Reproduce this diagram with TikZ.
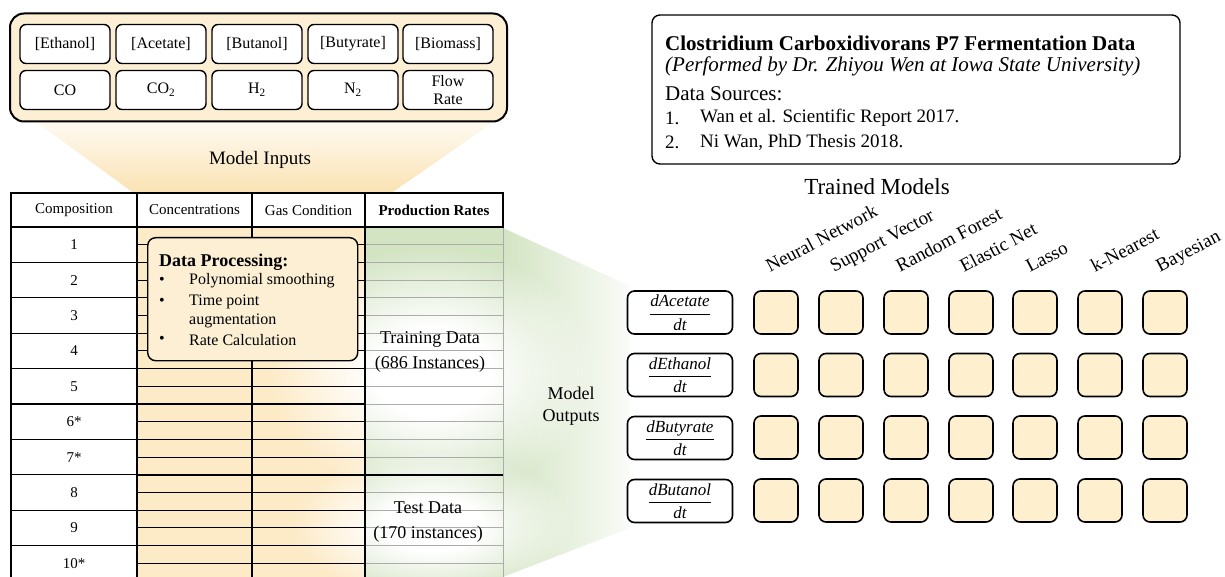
\documentclass[tikz,border=0pt]{standalone}
\usepackage{fontspec}
\setmainfont{Liberation Serif}
\usetikzlibrary{fadings}
\definecolor{inyellow}{HTML}{FCEFD3}
\definecolor{fadeyellow}{HTML}{FAE2B2}
\definecolor{cellyellow}{HTML}{FDEBC7}
\definecolor{sqyellow}{HTML}{FEF0CF}
\definecolor{rategreen}{HTML}{D3E4C3}
\pgfdeclareradialshading{glowshade}{\pgfpointorigin}{color(0bp)=(pgftransparent!0); color(9bp)=(pgftransparent!0); color(25bp)=(pgftransparent!100); color(50bp)=(pgftransparent!100)}
\pgfdeclarefading{softglow}{\pgfuseshading{glowshade}}
\newcommand{\fs}[1]{\fontsize{#1}{#1}\selectfont}
\newcommand{\rate}[1]{$\displaystyle\frac{\textit{#1}}{\textit{dt}}$}
\tikzset{
  inbox/.style={draw, line width=1.4pt, rounded corners=6pt, fill=white, minimum width=90pt, minimum height=39pt, inner sep=1pt, align=center, font=\fontsize{16}{18}\selectfont},
  cell/.style={inner sep=0pt, font=\fs{15}},
  bullet/.style={anchor=west, inner sep=0pt, font=\fs{16}},
  modelsq/.style={draw, line width=1.6pt, rounded corners=7pt, fill=sqyellow, minimum width=44pt, minimum height=43pt},
  outlabel/.style={draw, line width=1.6pt, rounded corners=7pt, fill=white, minimum width=105pt, minimum height=43pt, inner sep=0pt, font=\fs{17}},
  modelname/.style={anchor=base west, rotate=28, inner sep=0pt, font=\fs{19}},
  infoline/.style={anchor=west, inner sep=0pt},
}
\begin{document}
\begin{tikzpicture}[x=1pt,y=-1pt]
\useasboundingbox (0,0) rectangle (1225,577);
\clip (0,0) rectangle (1225,577);
\shade[top color=inyellow!30, bottom color=fadeyellow] (35,121) -- (495,121) -- (390,194) -- (135,194) -- cycle;
\node[draw, line width=2pt, rounded corners=14pt, fill=inyellow, minimum width=497pt, minimum height=108pt] (inputs) at (258.5,67.5) {};
\node[inbox] (in0) at (65,44) {[Ethanol]};
\node[inbox] (in1) at (161,44) {[Acetate]};
\node[inbox] (in2) at (257,44) {[Butanol]};
\node[inbox] (in3) at (353,44) {[Butyrate]};
\node[inbox] (in4) at (448,44) {[Biomass]};
\node[inbox] (in5) at (65,90) {CO};
\node[inbox] (in6) at (161,90) {CO\textsubscript{2}};
\node[inbox] (in7) at (257,90) {H\textsubscript{2}};
\node[inbox] (in8) at (353,90) {N\textsubscript{2}};
\node[inbox] (in9) at (448,90) {Flow\\Rate};
\node[font=\fs{19}] (minputs) at (260,160) {Model Inputs};
\shade[left color=rategreen, right color=rategreen!12] (503,228) -- (630,286) -- (630,528) -- (503,577) -- cycle;
\fill[cellyellow] (137,227) rectangle (365,590);
\fill[rategreen] (365,227) rectangle (503,590);
\fill[white, path fading=softglow] (432,372) ellipse [x radius=165pt, y radius=125pt];
\fill[white, path fading=softglow] (432,525) ellipse [x radius=140pt, y radius=75pt];
\foreach \k in {1,...,20} {
  \draw[gray!65, line width=1pt] (365,{227+\k*17.7}) -- (503,{227+\k*17.7});
  \draw[line width=1.1pt] (137,{227+\k*17.7}) -- (365,{227+\k*17.7});
}
\foreach \k in {1,...,10}
  \draw[line width=1.1pt] (11,{227+\k*35.4}) -- (137,{227+\k*35.4});
\draw[gray!65, line width=1pt] (503,227) -- (503,590);
\draw[line width=1.1pt] (11,193) rectangle (503,227);
\draw[line width=1.1pt] (11,193) -- (11,590);
\draw[line width=1.1pt] (137,193) -- (137,227);
\draw[line width=1.1pt] (252,193) -- (252,590);
\draw[line width=1.1pt] (365,193) -- (365,590);
\draw[line width=2.6pt] (137,227) -- (137,590);
\draw[line width=2.6pt] (137,227) -- (503,227);
\draw[line width=2.6pt] (137,474.8) -- (503,474.8);
\node[cell] (hcomp) at (74,210) {Composition};
\node[cell] (hconc) at (194.5,210) {Concentrations};
\node[cell] (hgas) at (308.5,210) {Gas Condition};
\node[cell, font=\bfseries\fs{15}] (hrate) at (434,210) {Production Rates};
\node[cell] (c1) at (74,244.7) {1};
\node[cell] (c2) at (74,280.1) {2};
\node[cell] (c3) at (74,315.5) {3};
\node[cell] (c4) at (74,350.9) {4};
\node[cell] (c5) at (74,386.3) {5};
\node[cell] (c6) at (74,421.7) {6*};
\node[cell] (c7) at (74,457.1) {7*};
\node[cell] (c8) at (74,492.5) {8};
\node[cell] (c9) at (74,527.9) {9};
\node[cell] (c10) at (74,563.3) {10*};
\node[draw, line width=1.4pt, rounded corners=8pt, fill=inyellow, minimum width=210pt, minimum height=123pt, anchor=north west] (proc) at (147,237) {};
\node[anchor=west, inner sep=0pt, font=\bfseries\fs{18}] (ptitle) at (159,262) {Data Processing:};
\node[bullet] (b1) at (159,281) {•};
\node[bullet] (p1) at (189,281) {Polynomial smoothing};
\node[bullet] (b2) at (159,302) {•};
\node[bullet] (p2) at (189,302) {Time point};
\node[bullet] (p3) at (189,321) {augmentation};
\node[bullet] (b3) at (159,340) {•};
\node[bullet] (p4) at (189,340) {Rate Calculation};
\node[align=center, font=\fontsize{18}{25}\selectfont] (train) at (430,352) {Training Data\\(686 Instances)};
\node[align=center, font=\fontsize{18}{25}\selectfont] (test) at (428,522) {Test Data\\(170 instances)};
\node[align=center, font=\fontsize{18}{22}\selectfont] (moutputs) at (571,406) {Model\\Outputs};
\node[draw, line width=1.4pt, rounded corners=8pt, minimum width=528pt, minimum height=149pt] (info) at (916,89.5) {};
\node[infoline, font=\bfseries\fs{21}] (i1) at (665,43) {Clostridium Carboxidivorans P7 Fermentation Data};
\node[infoline, font=\itshape\fs{21}] (i2) at (665,66) {(Performed by Dr. Zhiyou Wen at Iowa State University)};
\node[infoline, font=\fs{21}] (i3) at (665,94) {Data Sources:};
\node[infoline, font=\fs{19}] (i4) at (665,118) {1.};
\node[infoline, font=\fs{19}] (i5) at (700,118) {Wan et al. Scientific Report 2017.};
\node[infoline, font=\fs{19}] (i6) at (665,142) {2.};
\node[infoline, font=\fs{19}] (i7) at (700,142) {Ni Wan, PhD Thesis 2018.};
\node[font=\fs{23}] (trained) at (877,187) {Trained Models};
\node[modelname] (m0) at (770,273) {Neural Network};
\node[modelname] (m1) at (834,273) {Support Vector};
\node[modelname] (m2) at (900,273) {Random Forest};
\node[modelname] (m3) at (964,273) {Elastic Net};
\node[modelname] (m4) at (1030,273) {Lasso};
\node[modelname] (m5) at (1095,273) {k-Nearest};
\node[modelname] (m6) at (1160,273) {Bayesian};
\node[outlabel] (o0) at (680,312.5) {\rate{dAcetate}};
\node[outlabel] (o1) at (680,375) {\rate{dEthanol}};
\node[outlabel] (o2) at (680,438) {\rate{dButyrate}};
\node[outlabel] (o3) at (680,501) {\rate{dButanol}};
\node[modelsq] (s00) at (776,312.5) {};
\node[modelsq] (s01) at (841,312.5) {};
\node[modelsq] (s02) at (906,312.5) {};
\node[modelsq] (s03) at (971,312.5) {};
\node[modelsq] (s04) at (1035,312.5) {};
\node[modelsq] (s05) at (1100,312.5) {};
\node[modelsq] (s06) at (1165,312.5) {};
\node[modelsq] (s10) at (776,375) {};
\node[modelsq] (s11) at (841,375) {};
\node[modelsq] (s12) at (906,375) {};
\node[modelsq] (s13) at (971,375) {};
\node[modelsq] (s14) at (1035,375) {};
\node[modelsq] (s15) at (1100,375) {};
\node[modelsq] (s16) at (1165,375) {};
\node[modelsq] (s20) at (776,437.5) {};
\node[modelsq] (s21) at (841,437.5) {};
\node[modelsq] (s22) at (906,437.5) {};
\node[modelsq] (s23) at (971,437.5) {};
\node[modelsq] (s24) at (1035,437.5) {};
\node[modelsq] (s25) at (1100,437.5) {};
\node[modelsq] (s26) at (1165,437.5) {};
\node[modelsq] (s30) at (776,500.5) {};
\node[modelsq] (s31) at (841,500.5) {};
\node[modelsq] (s32) at (906,500.5) {};
\node[modelsq] (s33) at (971,500.5) {};
\node[modelsq] (s34) at (1035,500.5) {};
\node[modelsq] (s35) at (1100,500.5) {};
\node[modelsq] (s36) at (1165,500.5) {};
\end{tikzpicture}
\end{document}
